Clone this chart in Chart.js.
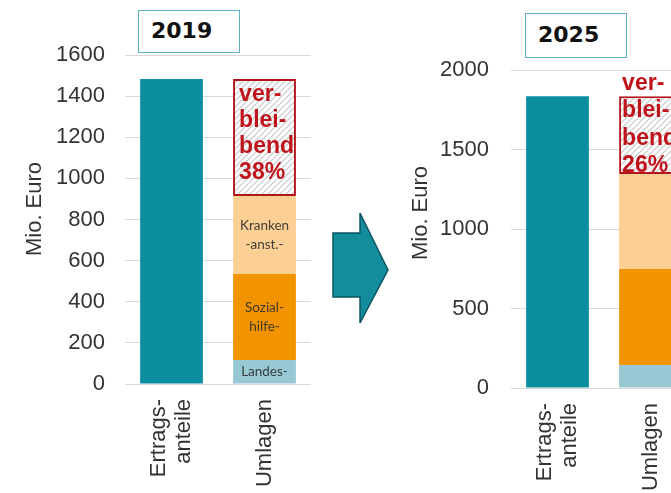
<!DOCTYPE html>
<html>
<head>
<meta charset="utf-8">
<script src="https://cdn.jsdelivr.net/npm/chart.js@4.4.1/dist/chart.umd.min.js"></script>
<style>
html,body{margin:0;padding:0;background:#fff;overflow:hidden;width:671px;height:493px;}
#wrap{position:relative;width:671px;height:493px;overflow:hidden;}
.cw{position:absolute;top:0;height:493px;}
#w1{left:0;width:330px;}
#w2{left:330px;width:400px;}
.year{position:absolute;box-sizing:border-box;border:1.5px solid #5cb3bf;font:bold 22px "DejaVu Sans",sans-serif;color:#111;background:#fff;padding-left:12px;z-index:3;}
#arrow{position:absolute;left:0;top:0;z-index:4;}
</style>
</head>
<body>
<div id="wrap">
  <div class="cw" id="w1"><canvas id="c1" width="330" height="493"></canvas></div>
  <div class="cw" id="w2"><canvas id="c2" width="400" height="493"></canvas></div>
  <div class="year" id="y1" style="left:138px;top:10px;width:102px;height:43px;line-height:40px;"></div>
  <div class="year" id="y2" style="left:525px;top:13px;width:102px;height:45px;line-height:42px;"></div>
  <svg id="arrow" width="671" height="493">
    <polygon points="333,233 360,233 360,213 388,270 360,323 360,297 333,297" fill="#138d9c" stroke="#0b5560" stroke-width="1.5" stroke-linejoin="miter"/>
  </svg>
</div>
<script>
// ---------- data ----------
const categories = [['Ertrags-', 'anteile'], 'Umlagen'];
const years = ['2019', '2025'];
const ertragsanteile = [1483, 1835];
const landesumlage = [117, 145];
const sozialhilfe = [418, 603];
const krankenanstalten = [379, 598];
const verbleibend = [569, 489];
const verbleibendText = [['ver-', 'blei-', 'bend', '38%'], ['ver-', 'blei-', 'bend', '26%']];
const landesLabel = [['Landes-'], null];
const sozialLabel = [['Sozial-', 'hilfe-'], null];
const krankenLabel = [['Kranken', '-anst.-'], null];
const yMax = [1600, 2000];
const yStep = [200, 500];
const yTitle = 'Mio. Euro';

// ---------- styles / layout ----------
const TEAL = '#0a8ea0', LBLUE = '#97c8d4', ORANGE = '#f29400', LORANGE = '#fccf94', RED = '#b3141c', RED_TXT = '#c0141c';
const panels = [
  {id: 'c1', year: 'y1', padTop: 55, padRight: 19, yWidth: 125, xHeight: 109, tickPad: 20, titleX: 35, titleY: 209, vOffX: 6, vOffY: 16, vLine: 26},
  {id: 'c2', year: 'y2', padTop: 70, padRight: 33, yWidth: 181, xHeight: 105, tickPad: 22, titleX: 91, titleY: 213, vOffX: 3, vOffY: -13, vLine: 27.5}
];

function makeHatch() {
  const c = document.createElement('canvas');
  c.width = 6; c.height = 6;
  const g = c.getContext('2d');
  g.fillStyle = '#ffffff'; g.fillRect(0, 0, 6, 6);
  g.strokeStyle = '#c6c6c6'; g.lineWidth = 1.1;
  g.beginPath();
  g.moveTo(0, 6); g.lineTo(6, 0);
  g.moveTo(-1, 1); g.lineTo(1, -1);
  g.moveTo(5, 7); g.lineTo(7, 5);
  g.stroke();
  return g.createPattern(c, 'repeat');
}

const centerMultiline = {
  id: 'centerMultiline',
  beforeDraw(chart) {
    const xs = chart.scales.x;
    const items = xs.getLabelItems(chart.chartArea);
    items.forEach(it => {
      if (Array.isArray(it.label) && it.label.length > 1 && !it._shifted) {
        it.options.translation[0] -= (it.label.length - 1) * it.font.lineHeight / 2;
        it._shifted = true;
      }
    });
  }
};

const annot = {
  id: 'annot',
  afterDatasetsDraw(chart, args, opts) {
    const ctx = chart.ctx;
    const i = opts.index;
    // segment labels
    chart.data.datasets.forEach((ds, di) => {
      if (!ds.segLabel) return;
      const el = chart.getDatasetMeta(di).data[1];
      const cy = (el.y + el.base) / 2;
      const lh = 19;
      ctx.save();
      ctx.font = '13.5px Lato, sans-serif';
      ctx.fillStyle = 'rgba(45,45,45,0.9)';
      ctx.textAlign = 'center';
      ctx.textBaseline = 'middle';
      ds.segLabel.forEach((t, k) => {
        ctx.fillText(t, el.x, cy - (ds.segLabel.length - 1) * lh / 2 + k * lh);
      });
      ctx.restore();
    });
    // verbleibend text
    const vi = chart.data.datasets.findIndex(d => d.isRemain);
    const el = chart.getDatasetMeta(vi).data[1];
    const left = el.x - el.width / 2;
    ctx.save();
    ctx.beginPath();
    ctx.rect(0, 0, chart.width, el.base);
    ctx.clip();
    ctx.font = 'bold 23px "Liberation Sans", Arial, sans-serif';
    ctx.fillStyle = RED_TXT;
    ctx.textAlign = 'left';
    ctx.textBaseline = 'middle';
    verbleibendText[i].forEach((t, k) => {
      ctx.fillText(t, left + opts.offX, el.y + opts.offY + k * opts.line);
    });
    ctx.restore();
    // y title
    ctx.save();
    ctx.translate(opts.titleX, opts.titleY);
    ctx.rotate(-Math.PI / 2);
    ctx.font = '22px "Liberation Sans", Arial, sans-serif';
    ctx.fillStyle = '#333333';
    ctx.textAlign = 'center';
    ctx.textBaseline = 'middle';
    ctx.fillText(yTitle, 0, 0);
    ctx.restore();
  }
};

const hatch = makeHatch();

panels.forEach((p, i) => {
  document.getElementById(p.year).textContent = years[i];
  new Chart(document.getElementById(p.id), {
    type: 'bar',
    data: {
      labels: categories,
      datasets: [
        {label: 'Ertragsanteile', data: [ertragsanteile[i], null], backgroundColor: TEAL},
        {label: 'Landesumlage', data: [null, landesumlage[i]], backgroundColor: LBLUE, segLabel: landesLabel[i]},
        {label: 'Sozialhilfe', data: [null, sozialhilfe[i]], backgroundColor: ORANGE, segLabel: sozialLabel[i]},
        {label: 'Krankenanstalten', data: [null, krankenanstalten[i]], backgroundColor: LORANGE, segLabel: krankenLabel[i]},
        {label: 'verbleibend', data: [null, verbleibend[i]], backgroundColor: hatch, borderColor: RED, borderWidth: 2, borderSkipped: false, isRemain: true}
      ]
    },
    options: {
      responsive: false,
      animation: false,
      devicePixelRatio: 1,
      categoryPercentage: 0.9,
      barPercentage: 0.75,
      layout: {padding: {top: p.padTop, right: p.padRight, left: 0, bottom: 0}},
      plugins: {
        legend: {display: false},
        tooltip: {enabled: false},
        annot: {index: i, offX: p.vOffX, offY: p.vOffY, line: p.vLine, titleX: p.titleX, titleY: p.titleY}
      },
      scales: {
        x: {
          stacked: true,
          grid: {display: false, drawTicks: false},
          border: {display: false},
          ticks: {
            autoSkip: false, minRotation: 90, maxRotation: 90, padding: 15,
            color: '#333333',
            font: {family: '"Liberation Sans", Arial, sans-serif', size: 22, lineHeight: 1.15}
          },
          afterFit(s) { s.height = p.xHeight; }
        },
        y: {
          stacked: true,
          min: 0, max: yMax[i],
          grid: {color: '#d9d9d9', lineWidth: 1, drawTicks: false},
          border: {display: false},
          ticks: {
            stepSize: yStep[i], padding: p.tickPad,
            color: '#333333',
            font: {family: '"Liberation Sans", Arial, sans-serif', size: 22},
            callback: v => String(v)
          },
          afterFit(s) { s.width = p.yWidth; }
        }
      }
    },
    plugins: [centerMultiline, annot]
  });
});
</script>
</body>
</html>
